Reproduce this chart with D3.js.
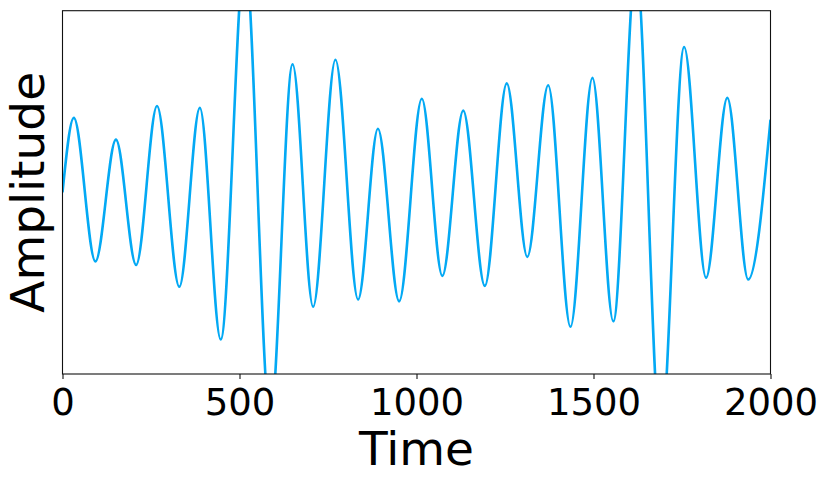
<!DOCTYPE html>
<html>
<head>
<meta charset="utf-8">
<script src="https://cdn.jsdelivr.net/npm/d3@7"></script>
<style>
  body { margin: 0; background: #fff; }
  svg { display: block; font-family: "DejaVu Sans", sans-serif; }
</style>
</head>
<body>
<div id="chart"></div>
<script>
// turning points of the trace (time, amplitude)
const times = [0, 32, 93, 151, 208, 267, 330, 388, 447, 515, 587, 650, 708, 771, 835, 891, 951,
  1015, 1073, 1132, 1193, 1255, 1313, 1372, 1435, 1497, 1556, 1620, 1690, 1756, 1818, 1878, 1937, 2000];
const amps = [0, 0.41, -0.38, 0.29, -0.40, 0.475, -0.52, 0.465, -0.81, 1.3, -1.25, 0.705, -0.63, 0.73, -0.59, 0.35, -0.60,
  0.515, -0.46, 0.45, -0.515, 0.60, -0.355, 0.59, -0.74, 0.63, -0.71, 1.25, -1.35, 0.80, -0.47, 0.52, -0.48, 0.40];
const xTicks = [0, 500, 1000, 1500, 2000];

const W = 831, H = 486;
const margin = { top: 10.7, right: 60.5, bottom: 112, left: 62.5 };
const width = W - margin.left - margin.right;
const height = H - margin.top - margin.bottom;

const svg = d3.select("#chart").append("svg")
  .attr("width", W)
  .attr("height", H);

const x = d3.scaleLinear().domain([0, 2000]).range([0, width]);
const y = d3.scaleLinear().domain([-1, 1]).range([height, 0]);

const g = svg.append("g")
  .attr("transform", "translate(" + margin.left + "," + margin.top + ")");

g.append("clipPath").attr("id", "plot-clip")
  .append("rect").attr("width", width).attr("height", height);

const data = times.map((t, i) => ({ t: t, v: amps[i] }));

const line = d3.line()
  .curve(d3.curveMonotoneX)
  .x(d => x(d.t))
  .y(d => y(d.v));

g.append("path")
  .datum(data)
  .attr("clip-path", "url(#plot-clip)")
  .attr("fill", "none")
  .attr("stroke", "#03a9f4")
  .attr("stroke-width", 2.6)
  .attr("d", line);

// frame
g.append("rect")
  .attr("width", width)
  .attr("height", height)
  .attr("fill", "none")
  .attr("stroke", "#111")
  .attr("stroke-width", 1.1);

const xAxis = d3.axisBottom(x)
  .tickValues(xTicks)
  .tickFormat(d3.format("d"))
  .tickSizeInner(5)
  .tickSizeOuter(0)
  .tickPadding(10);

const ax = g.append("g")
  .attr("transform", "translate(0," + height + ")")
  .call(xAxis);
ax.select(".domain").remove();
ax.selectAll("line").attr("stroke", "#111").attr("stroke-width", 1.1);
ax.selectAll("text")
  .attr("fill", "#000")
  .style("font-size", "37px")
  .style("font-family", "DejaVu Sans");

svg.append("text")
  .attr("x", margin.left + width / 2)
  .attr("y", 465)
  .attr("text-anchor", "middle")
  .style("font-size", "47px")
  .text("Time");

svg.append("text")
  .attr("transform", "translate(44," + (margin.top + height / 2) + ") rotate(-90)")
  .attr("text-anchor", "middle")
  .style("font-size", "47px")
  .text("Amplitude");
</script>
</body>
</html>
